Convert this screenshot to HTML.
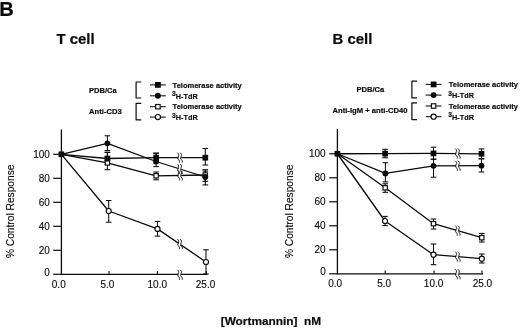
<!DOCTYPE html>
<html><head><meta charset="utf-8"><title>Figure B</title>
<style>
html,body{margin:0;padding:0;background:#fff;}
svg{display:block;}
text{font-family:"Liberation Sans",sans-serif;fill:#0a0a0a;}
text{stroke:#0a0a0a;stroke-width:0.12px;}
text.b{stroke:#0a0a0a;stroke-width:0.2px;}
text.c{stroke:#0a0a0a;stroke-width:0.18px;}
</style></head><body>
<svg width="520" height="329" viewBox="0 0 520 329">
<rect width="520" height="329" fill="#fff"/>
<line x1="61.40" y1="129.40" x2="61.40" y2="274.95" stroke="#0a0a0a" stroke-width="1.3" />
<line x1="61.10" y1="274.30" x2="207.20" y2="274.30" stroke="#0a0a0a" stroke-width="1.3" />
<line x1="53.20" y1="274.30" x2="61.40" y2="274.30" stroke="#0a0a0a" stroke-width="1.2" />
<text x="49.90" y="275.80" font-size="10" text-anchor="end" >0</text>
<line x1="53.20" y1="250.30" x2="61.40" y2="250.30" stroke="#0a0a0a" stroke-width="1.2" />
<text x="49.90" y="253.60" font-size="10" text-anchor="end" >20</text>
<line x1="53.20" y1="226.30" x2="61.40" y2="226.30" stroke="#0a0a0a" stroke-width="1.2" />
<text x="49.90" y="229.60" font-size="10" text-anchor="end" >40</text>
<line x1="53.20" y1="202.30" x2="61.40" y2="202.30" stroke="#0a0a0a" stroke-width="1.2" />
<text x="49.90" y="205.60" font-size="10" text-anchor="end" >60</text>
<line x1="53.20" y1="178.30" x2="61.40" y2="178.30" stroke="#0a0a0a" stroke-width="1.2" />
<text x="49.90" y="181.60" font-size="10" text-anchor="end" >80</text>
<line x1="53.20" y1="154.30" x2="61.40" y2="154.30" stroke="#0a0a0a" stroke-width="1.2" />
<text x="49.90" y="157.60" font-size="10" text-anchor="end" >100</text>
<line x1="109.00" y1="274.30" x2="109.00" y2="271.10" stroke="#0a0a0a" stroke-width="1.1" />
<line x1="157.50" y1="274.30" x2="157.50" y2="271.10" stroke="#0a0a0a" stroke-width="1.1" />
<line x1="206.30" y1="274.30" x2="206.30" y2="271.10" stroke="#0a0a0a" stroke-width="1.1" />
<text x="58.75" y="287.70" font-size="10" text-anchor="middle" >0.0</text>
<text x="107.40" y="287.70" font-size="10" text-anchor="middle" >5.0</text>
<text x="157.30" y="287.70" font-size="10" text-anchor="middle" >10.0</text>
<text x="205.50" y="287.70" font-size="10" text-anchor="middle" >25.0</text>
<text transform="translate(13.70,211.30) rotate(-90)" font-size="10.4" text-anchor="middle" textLength="93.6" lengthAdjust="spacingAndGlyphs">% Control Response</text>
<polyline points="61.40,154.30 108.70,211.00 157.50,228.90 206.00,262.00" fill="none" stroke="#0a0a0a" stroke-width="1.3" stroke-linejoin="round"/>
<polyline points="61.40,154.30 107.40,162.90 156.10,175.80 205.30,175.00" fill="none" stroke="#0a0a0a" stroke-width="1.3" stroke-linejoin="round"/>
<polyline points="61.40,154.30 107.40,143.30 156.10,161.50 205.30,177.00" fill="none" stroke="#0a0a0a" stroke-width="1.3" stroke-linejoin="round"/>
<polyline points="61.40,154.30 107.40,158.50 156.10,157.60 205.30,157.70" fill="none" stroke="#0a0a0a" stroke-width="1.3" stroke-linejoin="round"/>
<rect x="178.40" y="273.30" width="2.80" height="3" fill="#fff"/>
<path d="M177.40,269.80 C180.60,272.30 176.60,274.55 178.20,276.30 S179.80,278.80 179.40,279.80" fill="none" stroke="#0a0a0a" stroke-width="0.95"/>
<path d="M180.20,269.80 C183.40,272.30 179.40,274.55 181.00,276.30 S182.60,278.80 182.20,279.80" fill="none" stroke="#0a0a0a" stroke-width="0.95"/>
<rect x="178.40" y="242.62" width="2.80" height="3" fill="#fff"/>
<path d="M177.40,239.12 C180.60,241.62 176.60,243.87 178.20,245.62 S179.80,248.12 179.40,249.12" fill="none" stroke="#0a0a0a" stroke-width="0.95"/>
<path d="M180.20,239.12 C183.40,241.62 179.40,243.87 181.00,245.62 S182.60,248.12 182.20,249.12" fill="none" stroke="#0a0a0a" stroke-width="0.95"/>
<rect x="178.40" y="173.91" width="2.80" height="3" fill="#fff"/>
<path d="M177.40,170.41 C180.60,172.91 176.60,175.16 178.20,176.91 S179.80,179.41 179.40,180.41" fill="none" stroke="#0a0a0a" stroke-width="0.95"/>
<path d="M180.20,170.41 C183.40,172.91 179.40,175.16 181.00,176.91 S182.60,179.41 182.20,180.41" fill="none" stroke="#0a0a0a" stroke-width="0.95"/>
<rect x="178.40" y="167.47" width="2.80" height="3" fill="#fff"/>
<path d="M177.40,163.97 C180.60,166.47 176.60,168.72 178.20,170.47 S179.80,172.97 179.40,173.97" fill="none" stroke="#0a0a0a" stroke-width="0.95"/>
<path d="M180.20,163.97 C183.40,166.47 179.40,168.72 181.00,170.47 S182.60,172.97 182.20,173.97" fill="none" stroke="#0a0a0a" stroke-width="0.95"/>
<rect x="178.40" y="156.15" width="2.80" height="3" fill="#fff"/>
<path d="M177.40,152.65 C180.60,155.15 176.60,157.40 178.20,159.15 S179.80,161.65 179.40,162.65" fill="none" stroke="#0a0a0a" stroke-width="0.95"/>
<path d="M180.20,152.65 C183.40,155.15 179.40,157.40 181.00,159.15 S182.60,161.65 182.20,162.65" fill="none" stroke="#0a0a0a" stroke-width="0.95"/>
<line x1="108.70" y1="200.50" x2="108.70" y2="222.20" stroke="#0a0a0a" stroke-width="1.05" />
<line x1="105.90" y1="200.50" x2="111.50" y2="200.50" stroke="#0a0a0a" stroke-width="1.05" />
<line x1="105.90" y1="222.20" x2="111.50" y2="222.20" stroke="#0a0a0a" stroke-width="1.05" />
<line x1="157.50" y1="221.50" x2="157.50" y2="236.10" stroke="#0a0a0a" stroke-width="1.05" />
<line x1="154.70" y1="221.50" x2="160.30" y2="221.50" stroke="#0a0a0a" stroke-width="1.05" />
<line x1="154.70" y1="236.10" x2="160.30" y2="236.10" stroke="#0a0a0a" stroke-width="1.05" />
<line x1="206.00" y1="249.80" x2="206.00" y2="274.00" stroke="#0a0a0a" stroke-width="1.05" />
<line x1="203.20" y1="249.80" x2="208.80" y2="249.80" stroke="#0a0a0a" stroke-width="1.05" />
<line x1="203.20" y1="274.00" x2="208.80" y2="274.00" stroke="#0a0a0a" stroke-width="1.05" />
<line x1="107.40" y1="152.30" x2="107.40" y2="169.70" stroke="#0a0a0a" stroke-width="1.05" />
<line x1="104.60" y1="152.30" x2="110.20" y2="152.30" stroke="#0a0a0a" stroke-width="1.05" />
<line x1="104.60" y1="169.70" x2="110.20" y2="169.70" stroke="#0a0a0a" stroke-width="1.05" />
<line x1="156.10" y1="172.00" x2="156.10" y2="179.80" stroke="#0a0a0a" stroke-width="1.05" />
<line x1="153.30" y1="172.00" x2="158.90" y2="172.00" stroke="#0a0a0a" stroke-width="1.05" />
<line x1="153.30" y1="179.80" x2="158.90" y2="179.80" stroke="#0a0a0a" stroke-width="1.05" />
<line x1="205.30" y1="169.70" x2="205.30" y2="181.30" stroke="#0a0a0a" stroke-width="1.05" />
<line x1="202.50" y1="169.70" x2="208.10" y2="169.70" stroke="#0a0a0a" stroke-width="1.05" />
<line x1="202.50" y1="181.30" x2="208.10" y2="181.30" stroke="#0a0a0a" stroke-width="1.05" />
<line x1="107.40" y1="135.80" x2="107.40" y2="150.50" stroke="#0a0a0a" stroke-width="1.05" />
<line x1="104.60" y1="135.80" x2="110.20" y2="135.80" stroke="#0a0a0a" stroke-width="1.05" />
<line x1="104.60" y1="150.50" x2="110.20" y2="150.50" stroke="#0a0a0a" stroke-width="1.05" />
<line x1="156.10" y1="153.20" x2="156.10" y2="166.60" stroke="#0a0a0a" stroke-width="1.05" />
<line x1="153.30" y1="153.20" x2="158.90" y2="153.20" stroke="#0a0a0a" stroke-width="1.05" />
<line x1="153.30" y1="166.60" x2="158.90" y2="166.60" stroke="#0a0a0a" stroke-width="1.05" />
<line x1="205.30" y1="171.10" x2="205.30" y2="184.90" stroke="#0a0a0a" stroke-width="1.05" />
<line x1="202.50" y1="171.10" x2="208.10" y2="171.10" stroke="#0a0a0a" stroke-width="1.05" />
<line x1="202.50" y1="184.90" x2="208.10" y2="184.90" stroke="#0a0a0a" stroke-width="1.05" />
<line x1="107.40" y1="152.30" x2="107.40" y2="164.00" stroke="#0a0a0a" stroke-width="1.05" />
<line x1="104.60" y1="152.30" x2="110.20" y2="152.30" stroke="#0a0a0a" stroke-width="1.05" />
<line x1="104.60" y1="164.00" x2="110.20" y2="164.00" stroke="#0a0a0a" stroke-width="1.05" />
<line x1="156.10" y1="153.20" x2="156.10" y2="163.00" stroke="#0a0a0a" stroke-width="1.05" />
<line x1="153.30" y1="153.20" x2="158.90" y2="153.20" stroke="#0a0a0a" stroke-width="1.05" />
<line x1="153.30" y1="163.00" x2="158.90" y2="163.00" stroke="#0a0a0a" stroke-width="1.05" />
<line x1="205.30" y1="148.50" x2="205.30" y2="165.00" stroke="#0a0a0a" stroke-width="1.05" />
<line x1="202.50" y1="148.50" x2="208.10" y2="148.50" stroke="#0a0a0a" stroke-width="1.05" />
<line x1="202.50" y1="165.00" x2="208.10" y2="165.00" stroke="#0a0a0a" stroke-width="1.05" />
<circle cx="108.70" cy="211.00" r="2.53" fill="#fff" stroke="#0a0a0a" stroke-width="1.15"/>
<circle cx="157.50" cy="228.90" r="2.53" fill="#fff" stroke="#0a0a0a" stroke-width="1.15"/>
<circle cx="206.00" cy="262.00" r="2.53" fill="#fff" stroke="#0a0a0a" stroke-width="1.15"/>
<rect x="105.23" y="160.72" width="4.35" height="4.35" fill="#fff" stroke="#0a0a0a" stroke-width="1.15"/>
<rect x="153.92" y="173.62" width="4.35" height="4.35" fill="#fff" stroke="#0a0a0a" stroke-width="1.15"/>
<rect x="203.12" y="172.82" width="4.35" height="4.35" fill="#fff" stroke="#0a0a0a" stroke-width="1.15"/>
<circle cx="107.40" cy="143.30" r="2.90" fill="#0a0a0a"/>
<circle cx="156.10" cy="161.50" r="2.90" fill="#0a0a0a"/>
<circle cx="205.30" cy="177.00" r="2.90" fill="#0a0a0a"/>
<rect x="58.55" y="151.45" width="5.7" height="5.7" fill="#0a0a0a"/>
<rect x="104.55" y="155.65" width="5.7" height="5.7" fill="#0a0a0a"/>
<rect x="153.25" y="154.75" width="5.7" height="5.7" fill="#0a0a0a"/>
<rect x="202.45" y="154.85" width="5.7" height="5.7" fill="#0a0a0a"/>
<line x1="337.40" y1="129.00" x2="337.40" y2="274.45" stroke="#0a0a0a" stroke-width="1.3" />
<line x1="337.10" y1="273.80" x2="483.00" y2="273.80" stroke="#0a0a0a" stroke-width="1.3" />
<line x1="329.20" y1="273.80" x2="337.40" y2="273.80" stroke="#0a0a0a" stroke-width="1.2" />
<text x="325.70" y="275.30" font-size="10" text-anchor="end" >0</text>
<line x1="329.20" y1="249.80" x2="337.40" y2="249.80" stroke="#0a0a0a" stroke-width="1.2" />
<text x="325.70" y="253.10" font-size="10" text-anchor="end" >20</text>
<line x1="329.20" y1="225.80" x2="337.40" y2="225.80" stroke="#0a0a0a" stroke-width="1.2" />
<text x="325.70" y="229.10" font-size="10" text-anchor="end" >40</text>
<line x1="329.20" y1="201.80" x2="337.40" y2="201.80" stroke="#0a0a0a" stroke-width="1.2" />
<text x="325.70" y="205.10" font-size="10" text-anchor="end" >60</text>
<line x1="329.20" y1="177.80" x2="337.40" y2="177.80" stroke="#0a0a0a" stroke-width="1.2" />
<text x="325.70" y="181.10" font-size="10" text-anchor="end" >80</text>
<line x1="329.20" y1="153.80" x2="337.40" y2="153.80" stroke="#0a0a0a" stroke-width="1.2" />
<text x="325.70" y="157.10" font-size="10" text-anchor="end" >100</text>
<line x1="385.20" y1="273.80" x2="385.20" y2="270.60" stroke="#0a0a0a" stroke-width="1.1" />
<line x1="434.00" y1="273.80" x2="434.00" y2="270.60" stroke="#0a0a0a" stroke-width="1.1" />
<line x1="482.00" y1="273.80" x2="482.00" y2="270.60" stroke="#0a0a0a" stroke-width="1.1" />
<text x="335.10" y="286.90" font-size="10" text-anchor="middle" >0.0</text>
<text x="384.10" y="286.90" font-size="10" text-anchor="middle" >5.0</text>
<text x="433.60" y="286.90" font-size="10" text-anchor="middle" >10.0</text>
<text x="482.40" y="286.90" font-size="10" text-anchor="middle" >25.0</text>
<text transform="translate(292.50,211.30) rotate(-90)" font-size="10.4" text-anchor="middle" textLength="93.6" lengthAdjust="spacingAndGlyphs">% Control Response</text>
<polyline points="337.40,153.75 385.00,221.00 433.50,254.70 481.80,258.70" fill="none" stroke="#0a0a0a" stroke-width="1.3" stroke-linejoin="round"/>
<polyline points="337.40,153.75 385.20,187.80 433.50,223.70 481.80,237.70" fill="none" stroke="#0a0a0a" stroke-width="1.3" stroke-linejoin="round"/>
<polyline points="337.40,153.75 385.40,173.40 433.50,165.80 481.50,165.70" fill="none" stroke="#0a0a0a" stroke-width="1.3" stroke-linejoin="round"/>
<polyline points="337.40,153.75 385.10,153.60 433.50,153.40 481.50,153.80" fill="none" stroke="#0a0a0a" stroke-width="1.3" stroke-linejoin="round"/>
<rect x="456.20" y="272.80" width="2.80" height="3" fill="#fff"/>
<path d="M455.20,269.30 C458.40,271.80 454.40,274.05 456.00,275.80 S457.60,278.30 457.20,279.30" fill="none" stroke="#0a0a0a" stroke-width="0.95"/>
<path d="M458.00,269.30 C461.20,271.80 457.20,274.05 458.80,275.80 S460.40,278.30 460.00,279.30" fill="none" stroke="#0a0a0a" stroke-width="0.95"/>
<rect x="456.20" y="255.20" width="2.80" height="3" fill="#fff"/>
<path d="M455.20,251.70 C458.40,254.20 454.40,256.45 456.00,258.20 S457.60,260.70 457.20,261.70" fill="none" stroke="#0a0a0a" stroke-width="0.95"/>
<path d="M458.00,251.70 C461.20,254.20 457.20,256.45 458.80,258.20 S460.40,260.70 460.00,261.70" fill="none" stroke="#0a0a0a" stroke-width="0.95"/>
<rect x="456.20" y="229.19" width="2.80" height="3" fill="#fff"/>
<path d="M455.20,225.69 C458.40,228.19 454.40,230.44 456.00,232.19 S457.60,234.69 457.20,235.69" fill="none" stroke="#0a0a0a" stroke-width="0.95"/>
<path d="M458.00,225.69 C461.20,228.19 457.20,230.44 458.80,232.19 S460.40,234.69 460.00,235.69" fill="none" stroke="#0a0a0a" stroke-width="0.95"/>
<rect x="456.20" y="164.25" width="2.80" height="3" fill="#fff"/>
<path d="M455.20,160.75 C458.40,163.25 454.40,165.50 456.00,167.25 S457.60,169.75 457.20,170.75" fill="none" stroke="#0a0a0a" stroke-width="0.95"/>
<path d="M458.00,160.75 C461.20,163.25 457.20,165.50 458.80,167.25 S460.40,169.75 460.00,170.75" fill="none" stroke="#0a0a0a" stroke-width="0.95"/>
<rect x="456.20" y="152.10" width="2.80" height="3" fill="#fff"/>
<path d="M455.20,148.60 C458.40,151.10 454.40,153.35 456.00,155.10 S457.60,157.60 457.20,158.60" fill="none" stroke="#0a0a0a" stroke-width="0.95"/>
<path d="M458.00,148.60 C461.20,151.10 457.20,153.35 458.80,155.10 S460.40,157.60 460.00,158.60" fill="none" stroke="#0a0a0a" stroke-width="0.95"/>
<line x1="385.00" y1="216.40" x2="385.00" y2="225.60" stroke="#0a0a0a" stroke-width="1.05" />
<line x1="382.20" y1="216.40" x2="387.80" y2="216.40" stroke="#0a0a0a" stroke-width="1.05" />
<line x1="382.20" y1="225.60" x2="387.80" y2="225.60" stroke="#0a0a0a" stroke-width="1.05" />
<line x1="433.50" y1="244.00" x2="433.50" y2="264.70" stroke="#0a0a0a" stroke-width="1.05" />
<line x1="430.70" y1="244.00" x2="436.30" y2="244.00" stroke="#0a0a0a" stroke-width="1.05" />
<line x1="430.70" y1="264.70" x2="436.30" y2="264.70" stroke="#0a0a0a" stroke-width="1.05" />
<line x1="481.80" y1="254.00" x2="481.80" y2="263.00" stroke="#0a0a0a" stroke-width="1.05" />
<line x1="479.00" y1="254.00" x2="484.60" y2="254.00" stroke="#0a0a0a" stroke-width="1.05" />
<line x1="479.00" y1="263.00" x2="484.60" y2="263.00" stroke="#0a0a0a" stroke-width="1.05" />
<line x1="385.20" y1="183.80" x2="385.20" y2="192.30" stroke="#0a0a0a" stroke-width="1.05" />
<line x1="382.40" y1="183.80" x2="388.00" y2="183.80" stroke="#0a0a0a" stroke-width="1.05" />
<line x1="382.40" y1="192.30" x2="388.00" y2="192.30" stroke="#0a0a0a" stroke-width="1.05" />
<line x1="433.50" y1="219.00" x2="433.50" y2="229.00" stroke="#0a0a0a" stroke-width="1.05" />
<line x1="430.70" y1="219.00" x2="436.30" y2="219.00" stroke="#0a0a0a" stroke-width="1.05" />
<line x1="430.70" y1="229.00" x2="436.30" y2="229.00" stroke="#0a0a0a" stroke-width="1.05" />
<line x1="481.80" y1="233.40" x2="481.80" y2="242.00" stroke="#0a0a0a" stroke-width="1.05" />
<line x1="479.00" y1="233.40" x2="484.60" y2="233.40" stroke="#0a0a0a" stroke-width="1.05" />
<line x1="479.00" y1="242.00" x2="484.60" y2="242.00" stroke="#0a0a0a" stroke-width="1.05" />
<line x1="385.40" y1="162.75" x2="385.40" y2="181.90" stroke="#0a0a0a" stroke-width="1.05" />
<line x1="382.60" y1="162.75" x2="388.20" y2="162.75" stroke="#0a0a0a" stroke-width="1.05" />
<line x1="382.60" y1="181.90" x2="388.20" y2="181.90" stroke="#0a0a0a" stroke-width="1.05" />
<line x1="433.50" y1="159.20" x2="433.50" y2="177.20" stroke="#0a0a0a" stroke-width="1.05" />
<line x1="430.70" y1="159.20" x2="436.30" y2="159.20" stroke="#0a0a0a" stroke-width="1.05" />
<line x1="430.70" y1="177.20" x2="436.30" y2="177.20" stroke="#0a0a0a" stroke-width="1.05" />
<line x1="481.50" y1="158.80" x2="481.50" y2="172.00" stroke="#0a0a0a" stroke-width="1.05" />
<line x1="478.70" y1="158.80" x2="484.30" y2="158.80" stroke="#0a0a0a" stroke-width="1.05" />
<line x1="478.70" y1="172.00" x2="484.30" y2="172.00" stroke="#0a0a0a" stroke-width="1.05" />
<line x1="385.10" y1="149.30" x2="385.10" y2="157.75" stroke="#0a0a0a" stroke-width="1.05" />
<line x1="382.30" y1="149.30" x2="387.90" y2="149.30" stroke="#0a0a0a" stroke-width="1.05" />
<line x1="382.30" y1="157.75" x2="387.90" y2="157.75" stroke="#0a0a0a" stroke-width="1.05" />
<line x1="433.50" y1="147.20" x2="433.50" y2="159.20" stroke="#0a0a0a" stroke-width="1.05" />
<line x1="430.70" y1="147.20" x2="436.30" y2="147.20" stroke="#0a0a0a" stroke-width="1.05" />
<line x1="430.70" y1="159.20" x2="436.30" y2="159.20" stroke="#0a0a0a" stroke-width="1.05" />
<line x1="481.50" y1="148.90" x2="481.50" y2="158.80" stroke="#0a0a0a" stroke-width="1.05" />
<line x1="478.70" y1="148.90" x2="484.30" y2="148.90" stroke="#0a0a0a" stroke-width="1.05" />
<line x1="478.70" y1="158.80" x2="484.30" y2="158.80" stroke="#0a0a0a" stroke-width="1.05" />
<circle cx="385.00" cy="221.00" r="2.53" fill="#fff" stroke="#0a0a0a" stroke-width="1.15"/>
<circle cx="433.50" cy="254.70" r="2.53" fill="#fff" stroke="#0a0a0a" stroke-width="1.15"/>
<circle cx="481.80" cy="258.70" r="2.53" fill="#fff" stroke="#0a0a0a" stroke-width="1.15"/>
<rect x="383.02" y="185.62" width="4.35" height="4.35" fill="#fff" stroke="#0a0a0a" stroke-width="1.15"/>
<rect x="431.32" y="221.52" width="4.35" height="4.35" fill="#fff" stroke="#0a0a0a" stroke-width="1.15"/>
<rect x="479.62" y="235.52" width="4.35" height="4.35" fill="#fff" stroke="#0a0a0a" stroke-width="1.15"/>
<circle cx="385.40" cy="173.40" r="2.90" fill="#0a0a0a"/>
<circle cx="433.50" cy="165.80" r="2.90" fill="#0a0a0a"/>
<circle cx="481.50" cy="165.70" r="2.90" fill="#0a0a0a"/>
<rect x="334.55" y="150.90" width="5.7" height="5.7" fill="#0a0a0a"/>
<rect x="382.25" y="150.75" width="5.7" height="5.7" fill="#0a0a0a"/>
<rect x="430.65" y="150.55" width="5.7" height="5.7" fill="#0a0a0a"/>
<rect x="478.65" y="150.95" width="5.7" height="5.7" fill="#0a0a0a"/>
<text x="-0.70" y="15.80" font-size="20.1" font-weight="bold" text-anchor="start" class="b">B</text>
<text x="56.40" y="43.80" font-size="15.3" font-weight="bold" text-anchor="start" textLength="38.2" lengthAdjust="spacingAndGlyphs" class="b">T cell</text>
<text x="332.50" y="43.70" font-size="15.3" font-weight="bold" text-anchor="start" textLength="39.8" lengthAdjust="spacingAndGlyphs" class="b">B cell</text>
<text x="220.70" y="325.00" font-size="11.8" font-weight="bold" text-anchor="start" textLength="100.5" lengthAdjust="spacingAndGlyphs" class="b">[Wortmannin]&#160;&#160;nM</text>
<text x="89.00" y="92.50" font-size="7.9" font-weight="bold" text-anchor="start" textLength="27.7" lengthAdjust="spacingAndGlyphs" class="c">PDB/Ca</text>
<text x="89.10" y="113.80" font-size="7.9" font-weight="bold" text-anchor="start" textLength="32.6" lengthAdjust="spacingAndGlyphs" class="c">Anti-CD3</text>
<polyline points="141.30,82.00 136.10,82.00 136.10,98.00 141.30,98.00" fill="none" stroke="#0a0a0a" stroke-width="1.2" stroke-linejoin="round"/>
<polyline points="141.30,103.40 136.10,103.40 136.10,119.80 141.30,119.80" fill="none" stroke="#0a0a0a" stroke-width="1.2" stroke-linejoin="round"/>
<line x1="150.00" y1="84.90" x2="165.80" y2="84.90" stroke="#0a0a0a" stroke-width="1.05" />
<rect x="155.00" y="82.00" width="5.8" height="5.8" fill="#0a0a0a"/>
<line x1="150.00" y1="95.80" x2="165.80" y2="95.80" stroke="#0a0a0a" stroke-width="1.05" />
<circle cx="157.90" cy="95.80" r="2.95" fill="#0a0a0a"/>
<line x1="150.00" y1="106.70" x2="165.80" y2="106.70" stroke="#0a0a0a" stroke-width="1.05" />
<rect x="155.68" y="104.48" width="4.45" height="4.45" fill="#fff" stroke="#0a0a0a" stroke-width="1.15"/>
<line x1="150.00" y1="117.10" x2="165.80" y2="117.10" stroke="#0a0a0a" stroke-width="1.05" />
<circle cx="157.90" cy="117.10" r="2.58" fill="#fff" stroke="#0a0a0a" stroke-width="1.15"/>
<text x="172.60" y="87.80" font-size="7.9" font-weight="bold" text-anchor="start" textLength="69.2" lengthAdjust="spacingAndGlyphs" class="c">Telomerase activity</text>
<text class="c" x="172.10" y="98.70" font-size="7.9" font-weight="bold" textLength="25.6" lengthAdjust="spacingAndGlyphs"><tspan dy="-2.5" font-size="7.3">3</tspan><tspan dy="2.5">H-TdR</tspan></text>
<text x="172.60" y="109.40" font-size="7.9" font-weight="bold" text-anchor="start" textLength="69.2" lengthAdjust="spacingAndGlyphs" class="c">Telomerase activity</text>
<text class="c" x="172.10" y="120.10" font-size="7.9" font-weight="bold" textLength="25.6" lengthAdjust="spacingAndGlyphs"><tspan dy="-2.5" font-size="7.3">3</tspan><tspan dy="2.5">H-TdR</tspan></text>
<text x="356.40" y="92.00" font-size="7.9" font-weight="bold" text-anchor="start" textLength="27.9" lengthAdjust="spacingAndGlyphs" class="c">PDB/Ca</text>
<text x="332.50" y="112.90" font-size="7.9" font-weight="bold" text-anchor="start" textLength="75.0" lengthAdjust="spacingAndGlyphs" class="c">Anti-IgM + anti-CD40</text>
<polyline points="417.10,81.20 411.90,81.20 411.90,97.80 417.10,97.80" fill="none" stroke="#0a0a0a" stroke-width="1.2" stroke-linejoin="round"/>
<polyline points="417.10,102.80 411.90,102.80 411.90,119.60 417.10,119.60" fill="none" stroke="#0a0a0a" stroke-width="1.2" stroke-linejoin="round"/>
<line x1="425.70" y1="84.40" x2="441.50" y2="84.40" stroke="#0a0a0a" stroke-width="1.05" />
<rect x="430.70" y="81.50" width="5.8" height="5.8" fill="#0a0a0a"/>
<line x1="425.70" y1="95.10" x2="441.50" y2="95.10" stroke="#0a0a0a" stroke-width="1.05" />
<circle cx="433.60" cy="95.10" r="2.95" fill="#0a0a0a"/>
<line x1="425.70" y1="106.00" x2="441.50" y2="106.00" stroke="#0a0a0a" stroke-width="1.05" />
<rect x="431.38" y="103.78" width="4.45" height="4.45" fill="#fff" stroke="#0a0a0a" stroke-width="1.15"/>
<line x1="425.70" y1="116.70" x2="441.50" y2="116.70" stroke="#0a0a0a" stroke-width="1.05" />
<circle cx="433.60" cy="116.70" r="2.58" fill="#fff" stroke="#0a0a0a" stroke-width="1.15"/>
<text x="448.80" y="87.10" font-size="7.9" font-weight="bold" text-anchor="start" textLength="69.2" lengthAdjust="spacingAndGlyphs" class="c">Telomerase activity</text>
<text class="c" x="448.30" y="98.00" font-size="7.9" font-weight="bold" textLength="25.6" lengthAdjust="spacingAndGlyphs"><tspan dy="-2.5" font-size="7.3">3</tspan><tspan dy="2.5">H-TdR</tspan></text>
<text x="448.80" y="108.70" font-size="7.9" font-weight="bold" text-anchor="start" textLength="69.2" lengthAdjust="spacingAndGlyphs" class="c">Telomerase activity</text>
<text class="c" x="448.30" y="119.60" font-size="7.9" font-weight="bold" textLength="25.6" lengthAdjust="spacingAndGlyphs"><tspan dy="-2.5" font-size="7.3">3</tspan><tspan dy="2.5">H-TdR</tspan></text>
</svg>
</body></html>
